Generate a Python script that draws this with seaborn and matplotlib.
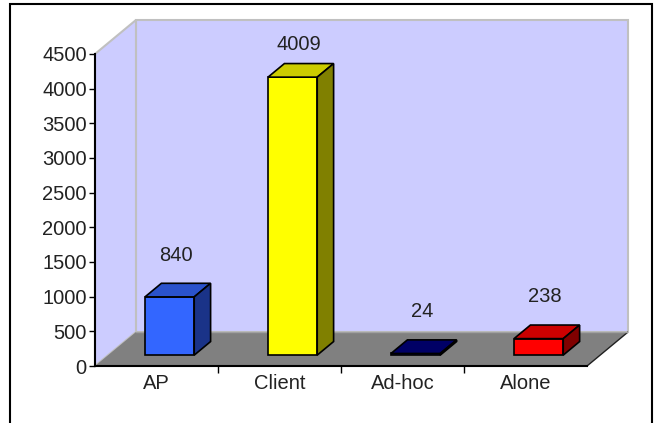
"""Wireless mode counts as an Excel-style 3D column chart."""

import matplotlib.pyplot as plt
import pandas as pd
import seaborn as sns
from matplotlib.patches import Polygon, Rectangle

categories = ["AP", "Client", "Ad-hoc", "Alone"]
counts = [840, 4009, 24, 238]
front_colors = ["#3366ff", "#ffff00", "#000080", "#ff0000"]
top_colors = ["#2a52cc", "#cccc00", "#000066", "#cc0000"]
side_colors = ["#1a3388", "#808000", "#000040", "#800000"]
y_ticks = [0, 500, 1000, 1500, 2000, 2500, 3000, 3500, 4000, 4500]

Y_MAX = 4500
DEPTH_X = 0.333  # depth shift in category units
DEPTH_Y = 490  # depth shift in value units
BAR_FRONT = 0.32
BAR_BACK = 0.72
WALL = "#ccccff"
FLOOR = "#808080"
EDGE = "#c0c0c0"
FONT = 14.5

sns.set_theme(style="white")
plt.rcParams["font.family"] = ["Liberation Sans", "DejaVu Sans"]

fig = plt.figure(figsize=(6.62, 4.23), dpi=100)
fig.patch.set_facecolor("white")
ax = fig.add_axes([95 / 662, 57 / 423, 533 / 662, 346 / 423])
ax.patch.set_visible(False)

df = pd.DataFrame({"mode": categories, "count": counts})
sns.barplot(
    data=df, x="mode", y="count", hue="mode", palette=front_colors, saturation=1,
    width=0.4, legend=False, edgecolor="black", linewidth=1.2, ax=ax, zorder=3,
)
bars = sorted(ax.patches, key=lambda p: p.get_x())

x0, x1 = -0.5, len(categories) - 0.5
ax.set_xlim(x0, x1 + DEPTH_X)
ax.set_ylim(0, Y_MAX + DEPTH_Y)

# walls and floor
back = [(x0 + DEPTH_X, DEPTH_Y), (x1 + DEPTH_X, DEPTH_Y),
        (x1 + DEPTH_X, Y_MAX + DEPTH_Y), (x0 + DEPTH_X, Y_MAX + DEPTH_Y)]
ax.add_patch(Polygon(back, facecolor=WALL, edgecolor=EDGE, linewidth=1.5, zorder=0, clip_on=False))
left = [(x0, 0), (x0, Y_MAX), (x0 + DEPTH_X, Y_MAX + DEPTH_Y), (x0 + DEPTH_X, DEPTH_Y)]
ax.add_patch(Polygon(left, facecolor=WALL, edgecolor=EDGE, linewidth=1.5, zorder=0, clip_on=False))
floor = [(x0, 0), (x1, 0), (x1 + DEPTH_X, DEPTH_Y), (x0 + DEPTH_X, DEPTH_Y)]
ax.add_patch(Polygon(floor, facecolor=FLOOR, edgecolor="none", zorder=1))
ax.plot([x1, x1 + DEPTH_X], [0, DEPTH_Y], color="#202020", linewidth=1, zorder=1.5)
ax.plot([x0 + DEPTH_X, x1 + DEPTH_X], [DEPTH_Y, DEPTH_Y], color="#a0a0a0", linewidth=1, zorder=1.5)

# push each bar into the depth and give it a top and a side
fx, fy = BAR_FRONT * DEPTH_X, BAR_FRONT * DEPTH_Y
bx, by = (BAR_BACK - BAR_FRONT) * DEPTH_X, (BAR_BACK - BAR_FRONT) * DEPTH_Y
for p, top_c, side_c in zip(bars, top_colors, side_colors):
    bx0, w, h = p.get_x() + fx, p.get_width(), p.get_height()
    p.set_xy((bx0, fy))
    top = [(bx0, fy + h), (bx0 + w, fy + h), (bx0 + w + bx, fy + h + by), (bx0 + bx, fy + h + by)]
    side = [(bx0 + w, fy), (bx0 + w + bx, fy + by), (bx0 + w + bx, fy + h + by), (bx0 + w, fy + h)]
    ax.add_patch(Polygon(top, facecolor=top_c, edgecolor="black", linewidth=1.2, zorder=3))
    ax.add_patch(Polygon(side, facecolor=side_c, edgecolor="black", linewidth=1.2, zorder=3))

for i, v in enumerate(counts):
    ax.text(i + 0.16, min(v + 760, 4640), str(v), ha="center", va="center",
            fontsize=FONT, color="#222222")

for s in ["top", "right"]:
    ax.spines[s].set_visible(False)
ax.spines["left"].set_bounds(0, Y_MAX)
ax.spines["bottom"].set_bounds(x0, x1)
for s in ["left", "bottom"]:
    ax.spines[s].set_color("black")
    ax.spines[s].set_linewidth(1.5)
    ax.spines[s].set_zorder(2)

ax.set_yticks(y_ticks)
ax.tick_params(axis="y", left=True, direction="out", length=4, width=1, pad=2,
               color="black", labelsize=FONT, labelcolor="#222222")
ax.set_xticks(range(len(categories)), categories)
ax.set_xticks([0.5, 1.5, 2.5], minor=True)
ax.tick_params(axis="x", which="major", length=0, pad=6, labelsize=FONT, labelcolor="#222222")
ax.tick_params(axis="x", which="minor", bottom=True, direction="out", length=5, width=1, color="black")
ax.set_xlabel("")
ax.set_ylabel("")

fig.add_artist(Rectangle((10 / 662, -0.05), 642 / 662, 419 / 423 + 0.05, transform=fig.transFigure,
                         facecolor="none", edgecolor="black", linewidth=1.5))

fig.savefig("out.png", dpi=100)
